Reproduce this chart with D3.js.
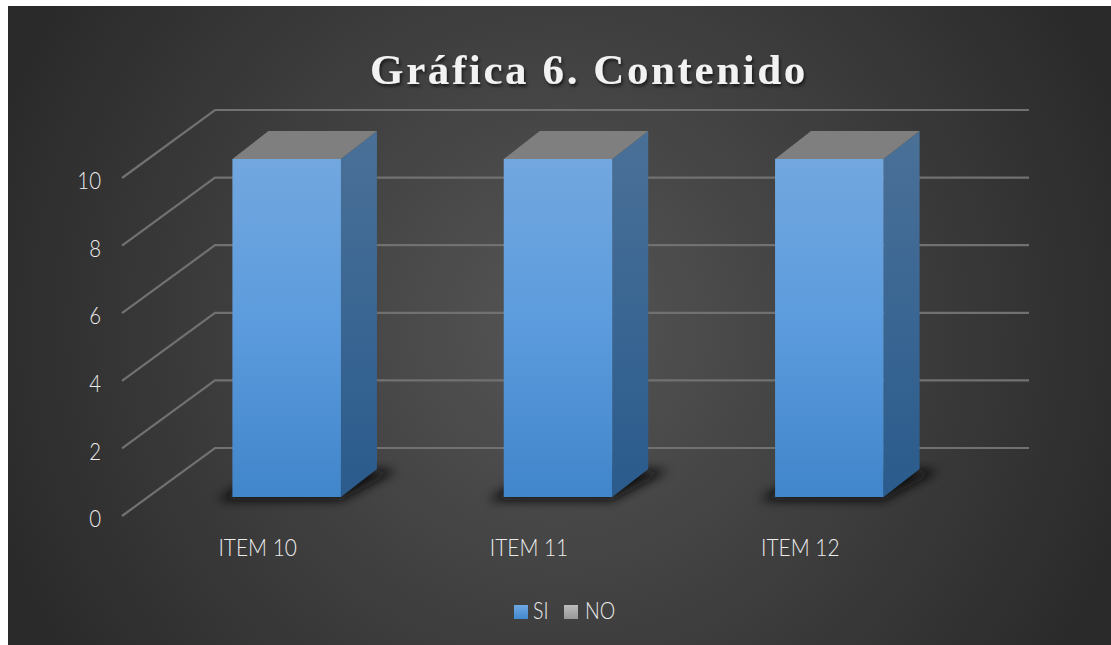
<!DOCTYPE html>
<html>
<head>
<meta charset="utf-8">
<script src="https://cdn.jsdelivr.net/npm/d3@7"></script>
<style>
  html, body { margin: 0; padding: 0; background: #fff; overflow: hidden; }
  svg { display: block; }
</style>
</head>
<body>
<svg id="viz" width="1111" height="645"></svg>
<script>
(function() {
  const items = ['ITEM 10', 'ITEM 11', 'ITEM 12'];
  const si = [10, 10, 10];
  const no = [0, 0, 0];
  const yTicks = [0, 2, 4, 6, 8, 10];
  const legendLabels = ['SI', 'NO'];

  const svg = d3.select('#viz');
  const defs = svg.append('defs');

  const bg = defs.append('radialGradient').attr('id', 'bg')
    .attr('gradientUnits', 'userSpaceOnUse')
    .attr('cx', 560).attr('cy', 325).attr('r', 600);
  bg.append('stop').attr('offset', '0%').attr('stop-color', '#555555');
  bg.append('stop').attr('offset', '100%').attr('stop-color', '#2a2a2a');

  const front = defs.append('linearGradient').attr('id', 'front')
    .attr('x1', 0).attr('y1', 0).attr('x2', 0).attr('y2', 1);
  front.append('stop').attr('offset', '0%').attr('stop-color', '#72a7df');
  front.append('stop').attr('offset', '50%').attr('stop-color', '#5b9bdd');
  front.append('stop').attr('offset', '100%').attr('stop-color', '#4185ca');

  const side = defs.append('linearGradient').attr('id', 'side')
    .attr('x1', 0).attr('y1', 0).attr('x2', 0).attr('y2', 1);
  side.append('stop').attr('offset', '0%').attr('stop-color', '#4a7097');
  side.append('stop').attr('offset', '50%').attr('stop-color', '#3a6693');
  side.append('stop').attr('offset', '100%').attr('stop-color', '#2a5b8c');

  const swatchBlue = defs.append('linearGradient').attr('id', 'swatchBlue')
    .attr('x1', 0).attr('y1', 0).attr('x2', 0).attr('y2', 1);
  swatchBlue.append('stop').attr('offset', '0%').attr('stop-color', '#6fa8e2');
  swatchBlue.append('stop').attr('offset', '100%').attr('stop-color', '#4189d0');

  const swatchGrey = defs.append('linearGradient').attr('id', 'swatchGrey')
    .attr('x1', 0).attr('y1', 0).attr('x2', 0).attr('y2', 1);
  swatchGrey.append('stop').attr('offset', '0%').attr('stop-color', '#bcbcbc');
  swatchGrey.append('stop').attr('offset', '100%').attr('stop-color', '#989898');

  defs.append('filter').attr('id', 'blur')
    .attr('x', '-30%').attr('y', '-50%').attr('width', '160%').attr('height', '200%')
    .append('feGaussianBlur').attr('stdDeviation', 5.5);

  const titleShadow = defs.append('filter').attr('id', 'titleShadow');
  titleShadow.append('feDropShadow')
    .attr('dx', 1.5).attr('dy', 2.5).attr('stdDeviation', 1.5)
    .attr('flood-color', '#000').attr('flood-opacity', 0.6);

  // chart background
  svg.append('rect')
    .attr('x', 8).attr('y', 6).attr('width', 1103).attr('height', 639)
    .attr('fill', 'url(#bg)');

  svg.append('text')
    .attr('x', 589).attr('y', 84)
    .attr('text-anchor', 'middle')
    .attr('font-family', '"Liberation Serif", serif')
    .attr('font-weight', 'bold')
    .attr('font-size', 43)
    .attr('letter-spacing', 2.6)
    .attr('fill', '#f2f2f2')
    .attr('filter', 'url(#titleShadow)')
    .text('Gráfica 6. Contenido');

  // front plane scales, the back wall is shifted by wall.dx / wall.dy
  const x = d3.scaleBand().domain(items).range([122, 936]).paddingInner(0.6).paddingOuter(0.3);
  const y = d3.scaleLinear().domain([0, 10]).range([516, 178]);
  const wall = { dx: 93, dy: 68 };
  const barOffset = { dx: 29, dy: 19 };
  const barDepth = { dx: 36, dy: 28 };

  const grid = svg.append('g')
    .attr('fill', 'none')
    .attr('stroke', '#717171')
    .attr('stroke-width', 2.2);

  grid.selectAll('path')
    .data(yTicks)
    .join('path')
    .attr('d', d => d3.line()([
      [x.range()[0], y(d)],
      [x.range()[0] + wall.dx, y(d) - wall.dy],
      [x.range()[1] + wall.dx, y(d) - wall.dy]
    ]));

  const rows = items.map((item, i) => ({ item, si: si[i], no: no[i] }));
  const series = d3.stack().keys(['si', 'no'])(rows);

  const colX = d => x(d.data.item) + barOffset.dx;
  const colY = v => y(v) - barOffset.dy;
  const poly = pts => d3.line()(pts) + 'Z';

  // floor shadow
  svg.append('g')
    .attr('filter', 'url(#blur)')
    .selectAll('path')
    .data(series[0])
    .join('path')
    .attr('fill', '#0c0c0c')
    .attr('d', d => {
      const l = colX(d), r = l + x.bandwidth(), b = colY(0) + 3;
      return poly([
        [l - 16, b], [r, b], [r + barDepth.dx + 20, b - barDepth.dy - 2],
        [l + barDepth.dx, b - barDepth.dy - 2]
      ]);
    });

  // side faces, then front faces, then the top of the zero NO block
  svg.append('g')
    .selectAll('path')
    .data(series[0])
    .join('path')
    .attr('fill', 'url(#side)')
    .attr('d', d => {
      const r = colX(d) + x.bandwidth();
      return poly([
        [r, colY(d[1])], [r + barDepth.dx, colY(d[1]) - barDepth.dy],
        [r + barDepth.dx, colY(d[0]) - barDepth.dy], [r, colY(d[0])]
      ]);
    });

  svg.append('g')
    .selectAll('rect')
    .data(series[0])
    .join('rect')
    .attr('fill', 'url(#front)')
    .attr('x', colX)
    .attr('y', d => colY(d[1]))
    .attr('width', x.bandwidth())
    .attr('height', d => colY(d[0]) - colY(d[1]));

  svg.append('g')
    .selectAll('path')
    .data(series[1])
    .join('path')
    .attr('fill', '#7f7f7f')
    .attr('d', d => {
      const l = colX(d), r = l + x.bandwidth(), t = colY(d[1]);
      return poly([
        [l, t], [r, t], [r + barDepth.dx, t - barDepth.dy], [l + barDepth.dx, t - barDepth.dy]
      ]);
    });

  const font = 'Lato, "Open Sans", sans-serif';

  const yAxis = svg.append('g')
    .attr('transform', 'translate(101,3)')
    .call(d3.axisLeft(y).tickValues(yTicks).tickSize(0).tickPadding(0));
  yAxis.select('.domain').remove();
  yAxis.selectAll('text')
    .attr('font-family', font).attr('font-weight', 300).attr('font-size', 24)
    .attr('fill', '#ececec').attr('transform', 'scale(0.85,1)');

  const xAxis = svg.append('g')
    .attr('transform', 'translate(0,539)')
    .call(d3.axisBottom(x).tickSize(0).tickPadding(0));
  xAxis.select('.domain').remove();
  xAxis.selectAll('text')
    .attr('font-family', font).attr('font-weight', 300).attr('font-size', 24)
    .attr('fill', '#ececec').attr('transform', 'scale(0.87,1)');

  // legend
  const legendX = d3.scaleOrdinal().domain(legendLabels).range([514, 564]);
  const legendFill = d3.scaleOrdinal().domain(legendLabels).range(['url(#swatchBlue)', 'url(#swatchGrey)']);
  const legend = svg.append('g').selectAll('g')
    .data(legendLabels)
    .join('g')
    .attr('transform', d => `translate(${legendX(d)},605)`);
  legend.append('rect')
    .attr('width', 14).attr('height', 14)
    .attr('fill', d => legendFill(d));
  legend.append('text')
    .attr('transform', d => `translate(${d === 'SI' ? 19 : 21},14) scale(0.85,1)`)
    .attr('font-family', font).attr('font-weight', 300).attr('font-size', 23)
    .attr('fill', '#ececec')
    .text(d => d);
})();
</script>
</body>
</html>
